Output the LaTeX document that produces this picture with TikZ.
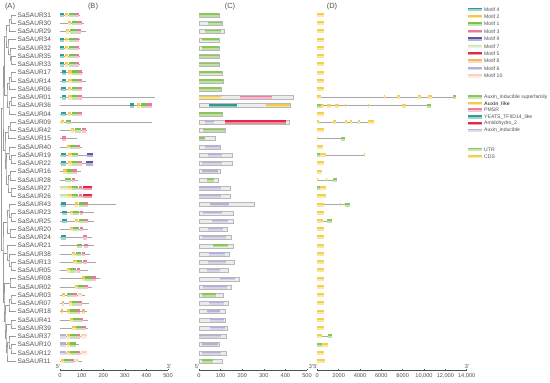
\documentclass[tikz,border=0pt]{standalone}
\usepackage{fontspec}
\setmainfont{Liberation Sans}
\usetikzlibrary{calc}

\definecolor{txt}{HTML}{505050}
\definecolor{branch}{HTML}{9A9A9A}
\definecolor{pline}{HTML}{A8A8A8}
\definecolor{barfill}{HTML}{ECECEC}
\definecolor{bardraw}{HTML}{B8B8B8}
% motifs
\definecolor{m4}{HTML}{2E9C97}
\definecolor{m2}{HTML}{F3C93F}
\definecolor{m1}{HTML}{7DBE4F}
\definecolor{m3}{HTML}{E8789C}
\definecolor{m9}{HTML}{5E56A0}
\definecolor{m7}{HTML}{C8E3A8}
\definecolor{m5}{HTML}{E12A4A}
\definecolor{m8}{HTML}{F4B664}
\definecolor{m6}{HTML}{B4B1D4}
\definecolor{m10}{HTML}{F9D3BC}
% domains
\definecolor{d1}{HTML}{8DC55C}
\definecolor{d2}{HTML}{F5CB47}
\definecolor{d3}{HTML}{EF7E9E}
\definecolor{d4}{HTML}{2E9A97}
\definecolor{d5}{HTML}{E2294A}
\definecolor{d6}{HTML}{B5B2D3}
% gene parts
\definecolor{utr}{HTML}{8CC65B}
\definecolor{cds}{HTML}{F4CF4B}

% protein with motifs (B)
\newcommand\protB[3]{%
  \draw[pline] (60,{15+8.24*#1}) -- ({60+0.216*#2},{15+8.24*#1});
  \foreach \mc/\ma/\mb in {#3} {
    \fill[fill=\mc!45] ({60+0.216*\ma},{12.8+8.24*#1}) rectangle ({60+0.216*\mb},{17.2+8.24*#1});
    \fill[fill=\mc] ({60+0.216*\ma},{12.8+8.24*#1}) rectangle ({60+0.216*\mb},{15+8.24*#1});
  }
}
% protein with domains (C)
\newcommand\domC[3]{%
  \filldraw[bar] (199,{13+8.24*#1}) rectangle ({199+0.216*#2},{17+8.24*#1});
  \foreach \mc/\ma/\mb in {#3} {
    \fill[fill=\mc!55] ({199+0.216*\ma},{13.3+8.24*#1}) rectangle ({199+0.216*\mb},{16.7+8.24*#1});
    \fill[fill=\mc] ({199+0.216*\ma},{13.3+8.24*#1}) rectangle ({199+0.216*\mb},{15+8.24*#1});
  }
}
% gene structure (D)
\newcommand\geneD[3]{%
  \draw[pline] (317,{15+8.24*#1}) -- ++(#2,0);
  \foreach \mc/\ma/\mb in {#3} {
    \fill[fill=\mc!50] ({317+\ma},{13+8.24*#1}) rectangle ({317+\mb},{17+8.24*#1});
    \fill[fill=\mc] ({317+\ma},{13+8.24*#1}) rectangle ({317+\mb},{15+8.24*#1});
  }
}

\begin{document}
\begin{tikzpicture}[x=1pt, y=-1pt, font=\fontsize{6.5}{7.5}\selectfont,
    gene/.style={anchor=west, inner sep=0.5pt, text=txt},
    panel/.style={inner sep=0pt, font=\fontsize{7.5}{8.5}\selectfont, text=txt},
    tick/.style={inner sep=0pt, font=\fontsize{5.6}{6.5}\selectfont, text=txt},
    key/.style={anchor=west, inner sep=0pt, font=\fontsize{5.1}{6}\selectfont, text=txt},
    branch/.style={draw=branch, line width=0.45pt},
    pline/.style={draw=pline, line width=0.6pt},
    bar/.style={fill=barfill, draw=bardraw, line width=0.3pt},
    axis/.style={draw=txt, line width=0.4pt}]

    \useasboundingbox (0,0) rectangle (550,383);

    \node[panel] (pa) at (10,7) {(A)};
    \node[panel] (pb) at (93,7) {(B)};
    \node[panel] (pc) at (230,7) {(C)};
    \node[panel] (pd) at (332,7) {(D)};

    % (A) gene names and tree
    \foreach \g [count=\i from 0] in {31,30,29,34,32,35,33,17,14,06,01,36,04,09,42,15,40,19,22,16,28,27,26,43,23,25,20,24,21,38,13,05,08,02,03,07,18,41,39,37,10,12,11} {
        \coordinate (lf\i) at (16,{15+8.24*\i});
        \node[gene] (n\i) at (17,{15+8.24*\i}) {SaSAUR\g};
    }
    \foreach \cn/\cx/\ca/\cb in {c1/11/lf0/lf1, c2/9/c1/lf2, c3/11/lf5/lf6, c4/10/lf4/c3, c5/8/lf3/c4,
        c6/6/c2/c5, c7/11/lf7/lf8, c8/9/c7/lf9, c9/11/lf10/lf11, c10/9/c9/lf12, c11/7/c8/c10,
        c12/4.5/c6/c11, c13/10/lf13/lf14, c14/8/c13/lf15, c15/11/lf17/lf18, c16/9/lf16/c15,
        c17/10/lf19/lf20, c18/11/lf21/lf22, c19/8/c17/c18, c20/6/c16/c19, c21/5/c14/c20,
        c22/3/c12/c21, c23/11/lf24/lf25, c24/9/lf23/c23, c25/10/lf26/lf27, c26/7/c24/c25,
        c27/11/lf30/lf31, c28/9/lf29/c27, c29/7/lf28/c28, c30/10/lf32/lf33, c31/11/lf34/lf35,
        c32/9/c31/lf36, c33/11/lf37/lf38, c34/11/lf40/lf41, c35/9/lf39/c34, c36/7/c35/lf42,
        c37/6/c33/c36, c38/5/c32/c37, c39/4/c30/c38, c40/3.5/c29/c39, c41/3/c26/c40,
        c42/1.5/c22/c41} {
        \path let \p1=(\ca), \p2=(\cb) in coordinate (\cn) at ({\cx*1pt},{0.5*(\y1+\y2)});
        \draw[branch] (\ca) -| (\cn) |- (\cb);
    }

    % (B) motifs
    \protB{0}{93}{m4/0/18, m2/23/38, m1/42/69, m3/69/88}
    \protB{1}{113}{m2/35/51, m1/54/82, m3/85/103}
    \protB{2}{119}{m2/28/43, m1/46/78, m3/80/98}
    \protB{3}{93}{m4/0/18, m2/23/38, m1/42/69, m3/69/88}
    \protB{4}{93}{m4/0/18, m2/23/38, m1/42/69, m3/69/88}
    \protB{5}{93}{m4/0/18, m2/23/38, m1/42/69, m3/69/88}
    \protB{6}{93}{m4/0/18, m2/23/38, m1/42/69, m3/69/88}
    \protB{7}{108}{m4/8/28, m2/39/54, m1/57/88, m3/88/103}
    \protB{8}{119}{m4/8/28, m2/39/54, m1/57/88, m3/88/103}
    \protB{9}{103}{m4/5/26, m2/35/51, m1/54/82, m3/82/100}
    \protB{10}{440}{m4/8/28, m2/39/54, m1/57/85, m3/85/103}
    \protB{11}{424}{m4/324/344, m2/355/370, m1/373/401, m3/404/424}
    \protB{12}{103}{m4/5/26, m2/35/51, m1/54/82, m3/85/103}
    \protB{13}{424}{m2/5/20, m1/26/51}
    \protB{14}{123}{m2/51/66, m1/69/97, m3/100/119}
    \protB{15}{77}{m3/8/26}
    \protB{16}{103}{m2/31/46, m1/46/77, m3/77/93}
    \protB{17}{154}{m4/5/26, m2/39/54, m1/57/85, m9/123/154}
    \protB{18}{151}{m4/5/26, m2/39/54, m1/54/85, m3/85/103, m9/119/151}
    \protB{19}{97}{m2/15/31, m1/31/62, m3/62/77}
    \protB{20}{85}{m1/23/51, m3/54/69}
    \protB{21}{147}{m7/0/39, m2/39/54, m1/54/85, m3/88/103, m5/108/147}
    \protB{22}{147}{m7/0/39, m2/39/54, m1/54/85, m3/88/103, m5/108/147}
    \protB{23}{259}{m4/5/26, m2/69/85, m1/88/116, m3/116/131}
    \protB{24}{159}{m4/11/31, m2/46/62, m1/62/90, m3/93/108}
    \protB{25}{159}{m4/11/31, m2/69/85, m1/88/116, m3/116/131}
    \protB{26}{131}{m2/46/62, m1/62/90, m3/93/108}
    \protB{27}{150}{m4/5/26, m3/108/123}
    \protB{28}{159}{m1/77/103, m3/113/128}
    \protB{29}{139}{m2/54/69, m1/73/97, m3/100/116}
    \protB{30}{165}{m2/62/77, m1/77/103, m3/108/123}
    \protB{31}{131}{m2/31/46, m1/46/73, m3/77/93}
    \protB{32}{185}{m2/100/116, m1/116/147, m3/147/165}
    \protB{33}{150}{m2/69/85, m1/85/113, m3/113/128}
    \protB{34}{116}{m2/8/23, m1/31/62, m3/62/77, m10/85/100}
    \protB{35}{134}{m8/8/18, m2/42/57, m1/57/85, m3/85/100}
    \protB{36}{123}{m8/5/15, m2/31/46, m1/46/77, m3/77/93, m8/100/116}
    \protB{37}{131}{m2/46/62, m1/62/93, m3/93/108}
    \protB{38}{128}{m2/57/73, m1/73/100, m3/100/119}
    \protB{39}{127}{m6/0/26, m2/31/46, m1/46/77, m3/77/93, m10/97/123}
    \protB{40}{88}{m6/0/26, m2/31/46, m1/46/73}
    \protB{41}{127}{m6/0/26, m2/31/46, m1/46/77, m3/77/93, m10/97/123}
    \protB{42}{103}{m2/5/20, m1/20/51, m3/51/66, m10/69/85}

    % (C) domains
    \domC{0}{92}{d1/0/92}
    \domC{1}{108}{d1/40/108}
    \domC{2}{115}{d1/28/104}
    \domC{3}{92}{d1/12/92}
    \domC{4}{92}{d1/12/92}
    \domC{5}{92}{d1/0/92}
    \domC{6}{92}{d1/0/92}
    \domC{7}{107}{d1/0/107}
    \domC{8}{112}{d1/0/110}
    \domC{9}{101}{d1/0/101}
    \domC{10}{436}{d2/0/104, d3/188/336}
    \domC{11}{420}{d4/46/177, d2/310/420}
    \domC{12}{107}{d1/0/107}
    \domC{13}{417}{d6/28/69, d5/122/402}
    \domC{14}{122}{d1/20/122}
    \domC{15}{76}{d1/0/28}
    \domC{16}{99}{d6/28/99}
    \domC{17}{154}{d6/40/107}
    \domC{18}{154}{d6/12/107}
    \domC{19}{96}{d6/12/86}
    \domC{20}{89}{d1/35/69}
    \domC{21}{145}{d6/0/104}
    \domC{22}{145}{d6/0/104}
    \domC{23}{257}{d6/50/138}
    \domC{24}{157}{d6/20/107}
    \domC{25}{160}{d6/61/135}
    \domC{26}{130}{d6/40/112}
    \domC{27}{150}{d6/12/124}
    \domC{28}{157}{d1/66/135}
    \domC{29}{139}{d6/46/119}
    \domC{30}{165}{d6/40/124}
    \domC{31}{134}{d6/35/96}
    \domC{32}{185}{d6/96/168}
    \domC{33}{150}{d6/20/130}
    \domC{34}{112}{d1/12/81}
    \domC{35}{134}{d6/46/116}
    \domC{36}{119}{d6/35/96}
    \domC{37}{122}{d6/50/116}
    \domC{38}{130}{d6/50/119}
    \domC{39}{127}{d6/0/104}
    \domC{40}{92}{d6/15/89}
    \domC{41}{127}{d6/15/104}
    \domC{42}{107}{d1/12/66}

    % (D) gene structures
    \foreach \r in {0,...,9,12,14,18,24,26,27,...,38,41} {\geneD{\r}{0}{cds/0/7}}
    \geneD{10}{139}{cds/0/3.5, cds/66.5/67.5, cds/79.7/83, cds/101/103.7, cds/111/114.7, utr/136/139}
    \geneD{11}{113.7}{utr/0/3.7, cds/3.7/7, cds/9.7/13.7, cds/18/22, cds/27.7/28.3, cds/50.7/51.3, cds/84.7/89, utr/110/113.7}
    \geneD{13}{57}{cds/0/2.3, cds/16/19, cds/28/29.7, cds/33/34.7, cds/41/43, cds/51/57}
    \geneD{15}{28}{cds/0/1.3, utr/23.7/28}
    \geneD{16}{0}{cds/0/5.7}
    \geneD{17}{47}{utr/0/3, cds/3/9, cds/46.5/47}
    \geneD{19}{0}{cds/0/5}
    \geneD{20}{19.7}{cds/0/1.3, cds/9.3/10, utr/15.7/19.7}
    \geneD{21}{0}{utr/0/3, cds/3/9}
    \geneD{22}{0}{cds/0/9}
    \geneD{23}{33}{cds/0/7, cds/23.3/24, utr/28/33}
    \geneD{25}{14.7}{cds/0/5.7, utr/10.3/14.7}
    \geneD{39}{14.7}{cds/0/4.7, utr/11.3/14.7}
    \geneD{40}{0}{utr/0/5, cds/5/11}
    \geneD{42}{0}{cds/0/8}

    % axes
    \draw[axis] (60,370) -- (168,370);
    \draw[axis] (199,370) -- (307,370);
    \draw[axis] (317.3,370) -- (466.7,370);
    \foreach \v [count=\k from 0] in {0,100,200,300,400,500} {
        \draw[axis] ({60+0.216*\v},370) -- ++(0,-1.5);
        \node[tick] (bt\k) at ({60+0.216*\v},375.5) {\v};
        \draw[axis] ({199+0.216*\v},370) -- ++(0,-1.5);
        \node[tick] (ct\k) at ({199+0.216*\v},375.5) {\v};
    }
    \foreach \v [count=\k from 0] in {0,2000,4000,6000,8000,{10,000},{12,000},{14,000}} {
        \draw[axis] ({317.3+21.34*\k},370) -- ++(0,-1.5);
        \node[tick] (dt\k) at ({317.3+21.34*\k},375.5) {\v};
    }
    \node[tick] (b5) at (58,366.5) {5'};
    \node[tick] (b3) at (169,366.5) {3'};
    \node[tick] (c5) at (197,366.5) {5'};
    \node[tick] (c3) at (311,366.5) {3'};
    \node[tick] (d5) at (315.5,366.5) {5'};
    \node[tick] (d3) at (467,366.5) {3'};

    % legends
    \foreach \mc/\t [count=\k from 0] in {m4/Motif 4, m2/Motif 2, m1/Motif 1, m3/Motif 3, m9/Motif 9,
        m7/Motif 7, m5/Motif 5, m8/Motif 8, m6/Motif 6, m10/Motif 10} {
        \fill[fill=\mc!45] (468,{7.5+7.4*\k}) rectangle (482,{11+7.4*\k});
        \fill[fill=\mc] (468,{7.5+7.4*\k}) rectangle (482,{9.3+7.4*\k});
        \node[key] (km\k) at (484,{9.3+7.4*\k}) {\t};
    }
    \foreach \mc/\t [count=\k from 0] in {d1/Auxin\_inducible superfamily, d2/\textbf{Auxin\_like}, d3/PMSR,
        d4/YEATS\_TFIID14\_like, d5/Amidohydro\_2, d6/Auxin\_inducible} {
        \fill[fill=\mc!45] (468,{95+6.7*\k}) rectangle (482,{98.5+6.7*\k});
        \fill[fill=\mc] (468,{95+6.7*\k}) rectangle (482,{96.8+6.7*\k});
        \node[key] (kd\k) at (484,{96.8+6.7*\k}) {\t};
    }
    \foreach \mc/\t [count=\k from 0] in {utr/UTR, cds/CDS} {
        \fill[fill=\mc!45] (468,{147.5+7.4*\k}) rectangle (482,{151+7.4*\k});
        \fill[fill=\mc] (468,{147.5+7.4*\k}) rectangle (482,{149.3+7.4*\k});
        \node[key] (ku\k) at (484,{149.3+7.4*\k}) {\t};
    }
\end{tikzpicture}
\end{document}
